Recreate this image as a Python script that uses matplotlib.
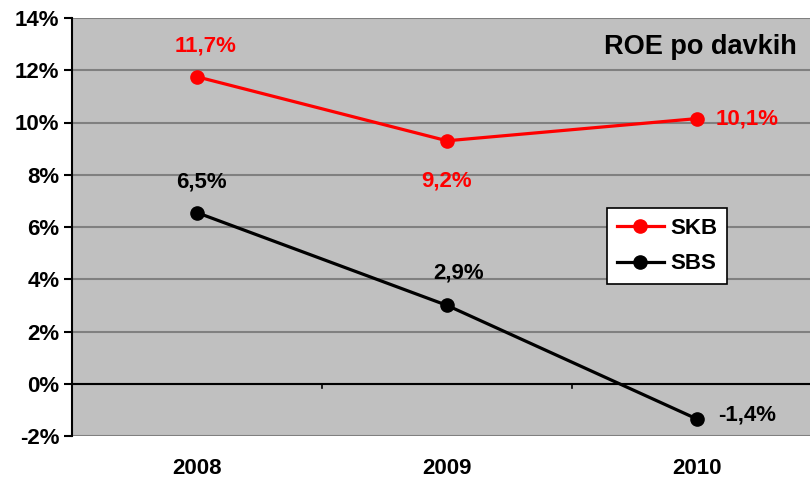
import matplotlib
matplotlib.use("Agg")
import matplotlib.pyplot as plt
from matplotlib.ticker import FuncFormatter

plt.rcParams['font.family'] = ['Liberation Sans', 'DejaVu Sans']
plt.rcParams['font.weight'] = 'bold'

years = ["2008", "2009", "2010"]
skb = [11.75, 9.3, 10.15]
sbs = [6.55, 3.0, -1.35]
skb_labels = ["11,7%", "9,2%", "10,1%"]
sbs_labels = ["6,5%", "2,9%", "-1,4%"]

fig = plt.figure(figsize=(8.1, 4.79), dpi=100)
ax = fig.add_axes([72/810, 1-436/479, 750/810, 418/479])
ax.set_facecolor("#c0c0c0")

x = list(range(len(years)))
ax.plot(x, skb, color="#ff0000", lw=2.3, marker="o", ms=9.5, label="SKB", zorder=3)
ax.plot(x, sbs, color="black", lw=2.3, marker="o", ms=9.5, label="SBS", zorder=3)

# data labels (offsets in points)
skb_off = [(6, 22), (0, -29), (36, 0)]
sbs_off = [(3, 22), (8, 23), (36, 3)]
for i in x:
    ax.annotate(skb_labels[i], (i, skb[i]), xytext=skb_off[i], textcoords="offset points",
                ha="center", va="center", color="#ff0000", fontsize=16, fontweight="bold")
    ax.annotate(sbs_labels[i], (i, sbs[i]), xytext=sbs_off[i], textcoords="offset points",
                ha="center", va="center", color="black", fontsize=16, fontweight="bold")

ax.set_xlim(-0.5, 2.5)
ax.set_ylim(-2, 14)
ax.set_yticks(range(-2, 15, 2))
ax.yaxis.set_major_formatter(FuncFormatter(lambda v, p: "{:d}%".format(int(v))))
ax.grid(axis="y", color="#808080", lw=1.5)
ax.axhline(0, color="black", lw=1.5, zorder=2)
ax.set_axisbelow(True)

ax.set_xticks(x)
ax.set_xticklabels(years)
ax.tick_params(axis="x", length=0, pad=16, labelsize=16)
ax.tick_params(axis="y", length=6, width=1.5, direction="out", labelsize=16, pad=3)
for v in (0.5, 1.5):
    ax.plot([v, v], [0, -0.18], color="black", lw=1.2, clip_on=False, zorder=2)

for s in ("top", "right", "bottom"):
    ax.spines[s].set_visible(False)
ax.spines["left"].set_linewidth(1.5)

ax.text(0.966, 0.93, "ROE po davkih", transform=ax.transAxes, ha="right", va="center",
        fontsize=19.5, fontweight="bold")

leg = ax.legend(loc="upper left", bbox_to_anchor=((607-72)/750, 1-(208-18)/418),
                borderaxespad=0, frameon=True, fancybox=False, edgecolor="black",
                facecolor="white", fontsize=16, handlelength=2.1, handletextpad=0.3,
                borderpad=0.45, labelspacing=0.65)
leg.get_frame().set_linewidth(1.2)
leg.get_frame().set_alpha(1)

fig.savefig("out.png", dpi=100)
